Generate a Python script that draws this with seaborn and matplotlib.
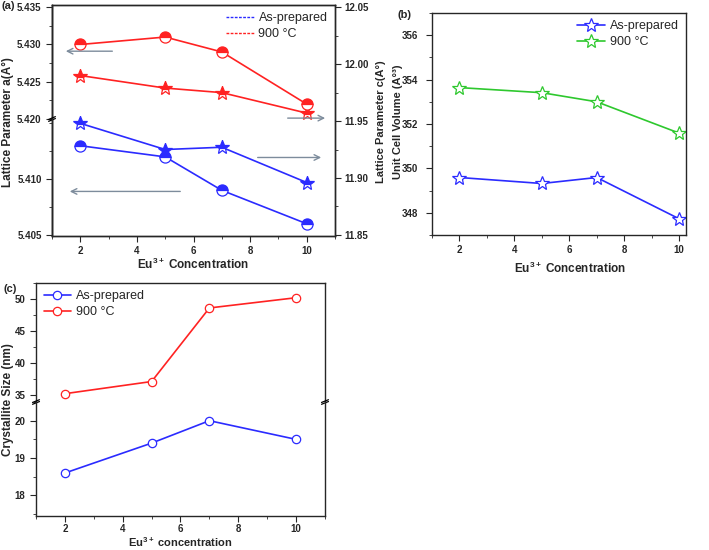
import numpy as np
import pandas as pd
import seaborn as sns
import matplotlib
matplotlib.use("Agg")
import matplotlib.pyplot as plt
from matplotlib.lines import Line2D
from matplotlib.ticker import MultipleLocator

# --- DATA ---
eu_conc = [2, 5, 7, 10]

# (a) lattice parameters
a_as_prepared = [5.413, 5.412, 5.409, 5.406]
a_900 = [5.430, 5.431, 5.429, 5.422]
c_as_prepared = [11.948, 11.925, 11.927, 11.896]
c_900 = [11.990, 11.979, 11.975, 11.957]

# (b) unit cell volume
vol_as_prepared = [349.59, 349.32, 349.59, 347.73]
vol_900 = [353.64, 353.41, 353.00, 351.59]

# (c) crystallite size
size_as_prepared = [18.6, 19.4, 20.0, 19.5]
size_900 = [35.2, 37.1, 48.6, 50.2]

series_labels = ["As-prepared", "900 °C"]

BLUE = "#2b2bff"
RED = "#ff2222"
GREEN = "#2ec82e"
ARROW = "#7d8c9c"

# --- STYLE ---
sns.set_style("ticks")
plt.rcParams["font.family"] = ["Liberation Sans", "DejaVu Sans"]
plt.rcParams["font.weight"] = "bold"
plt.rcParams["axes.labelweight"] = "bold"
plt.rcParams["mathtext.fontset"] = "custom"
plt.rcParams["mathtext.rm"] = "Liberation Sans:bold"
plt.rcParams["mathtext.it"] = "Liberation Sans:bold"
plt.rcParams["mathtext.bf"] = "Liberation Sans:bold"
plt.rcParams["xtick.labelsize"] = 7
plt.rcParams["ytick.labelsize"] = 7
plt.rcParams["xtick.direction"] = "out"
plt.rcParams["ytick.direction"] = "out"
plt.rcParams["axes.linewidth"] = 1.0

fig = plt.figure(figsize=(7.09, 5.5), dpi=100)
W, H = 709, 550


def px_box(left, top, right, bottom):
    return [left / W, 1 - bottom / H, (right - left) / W, (bottom - top) / H]


def fig_label(x, y, s, rot=0, size=8.5, va="center"):
    fig.text(x / W, 1 - y / H, s, rotation=rot, ha="center", va=va,
             fontsize=size, fontweight="bold")


def break_marks(ax, y, side="left"):
    x = 0 if side == "left" else 1
    d = 0.012
    for off in (-0.008, 0.008):
        ax.plot([x - d, x + d], [y + off - 0.012, y + off + 0.012],
                transform=ax.transAxes, color="k", lw=0.9, clip_on=False)


def draw(ax, x, y, color, marker, ms, **kw):
    sns.lineplot(x=x, y=y, ax=ax, color=color, marker=marker, markersize=ms,
                 markeredgecolor=color, markeredgewidth=0.9, lw=1.2, **kw)


def xaxis_fmt(ax):
    ax.xaxis.set_major_locator(MultipleLocator(2))
    ax.xaxis.set_minor_locator(MultipleLocator(1))
    ax.tick_params(axis="x", which="major", length=4)
    ax.tick_params(axis="x", which="minor", length=2.5)


leg_kw = dict(frameon=False, prop={"weight": "normal", "size": 9}, handlelength=2.2,
              borderaxespad=0.2, labelspacing=0.3, handletextpad=0.4)

# --- (a) ---
ax_a = fig.add_axes(px_box(52, 5, 335, 236))
ax_a.set_xlim(1, 11)
ax_a.set_yticks([])
xaxis_fmt(ax_a)

ax_ar = ax_a.twinx()
draw(ax_ar, eu_conc, c_as_prepared, BLUE, "*", 10, fillstyle="top", markerfacecoloralt="white")
draw(ax_ar, eu_conc, c_900, RED, "*", 10, fillstyle="top", markerfacecoloralt="white")
ax_ar.set_ylim(11.849, 12.052)
ax_ar.yaxis.set_major_locator(MultipleLocator(0.05))
ax_ar.yaxis.set_minor_locator(MultipleLocator(0.025))
ax_ar.yaxis.set_major_formatter(plt.FormatStrFormatter("%.2f"))
ax_ar.tick_params(axis="y", which="major", length=4, pad=3)
ax_ar.tick_params(axis="y", which="minor", length=2.5)
ax_ar.set_xlim(1, 11)

ax_at = fig.add_axes(px_box(52, 5, 335, 119), sharex=ax_a)
ax_ab = fig.add_axes(px_box(52, 119, 335, 236), sharex=ax_a)
for ax in (ax_at, ax_ab):
    ax.patch.set_alpha(0)
    for s in ("top", "right", "bottom"):
        ax.spines[s].set_visible(False)
    ax.tick_params(axis="x", which="both", bottom=False, labelbottom=False)
    ax.tick_params(axis="y", which="major", length=4)
    ax.tick_params(axis="y", which="minor", length=2.5)
    ax.yaxis.set_major_formatter(plt.FormatStrFormatter("%.3f"))

draw(ax_at, eu_conc, a_900, RED, "o", 8, fillstyle="top", markerfacecoloralt="white")
ax_at.set_ylim(5.4200, 5.4353)
ax_at.yaxis.set_major_locator(MultipleLocator(0.005))
ax_at.yaxis.set_minor_locator(MultipleLocator(0.0025))

draw(ax_ab, eu_conc, a_as_prepared, BLUE, "o", 8, fillstyle="top", markerfacecoloralt="white")
ax_ab.set_ylim(5.4049, 5.4154)
ax_ab.set_yticks([5.405, 5.410])
ax_ab.yaxis.set_minor_locator(MultipleLocator(0.0025))
ax_ab.set_xlim(1, 11)
break_marks(ax_ab, 1.0, "left")

fig_label(8, 122, "Lattice Parameter a(A°)", rot=90)
fig_label(381, 122, "Lattice Parameter c(A°)", rot=90, size=8)
fig_label(193, 272, "Eu$^{3+}$ Concentration", va="bottom")

arrow_kw = dict(arrowstyle="->", color=ARROW, lw=1.0)
ax_at.annotate("", xy=(1.39, 5.4291), xytext=(3.23, 5.4291), arrowprops=arrow_kw)
ax_ab.annotate("", xy=(1.53, 5.4089), xytext=(5.63, 5.4089), arrowprops=arrow_kw)
ax_ar.annotate("", xy=(10.75, 11.9526), xytext=(9.23, 11.9526), arrowprops=arrow_kw)
ax_ar.annotate("", xy=(10.61, 11.918), xytext=(8.17, 11.918), arrowprops=arrow_kw)

leg_a = [Line2D([], [], color=BLUE, ls=(0, (2, 1)), lw=1.0),
         Line2D([], [], color=RED, ls=(0, (2, 1)), lw=1.0)]
ax_at.legend(leg_a, series_labels, loc="upper right", **leg_kw)

fig_label(8, 6, "(a)", size=8)

# --- (b) ---
ax_b = fig.add_axes(px_box(432, 13, 686, 235))
draw(ax_b, eu_conc, vol_as_prepared, BLUE, "*", 10, mfc="white", label=series_labels[0])
draw(ax_b, eu_conc, vol_900, GREEN, "*", 10, mfc="white", label=series_labels[1])
ax_b.set_xlim(1, 10.25)
ax_b.set_ylim(347, 357)
xaxis_fmt(ax_b)
ax_b.yaxis.set_major_locator(MultipleLocator(2))
ax_b.yaxis.set_minor_locator(MultipleLocator(1))
ax_b.tick_params(axis="y", which="major", length=4, pad=6)
ax_b.tick_params(axis="y", which="minor", length=2.5)
ax_b.legend(loc="upper right", **leg_kw)
fig_label(398, 122, "Unit Cell Volume (A°³)", rot=90, size=8)
fig_label(570, 276, "Eu$^{3+}$ Concentration", va="bottom")
fig_label(404, 15, "(b)", size=8)

# --- (c) ---
ax_ct = fig.add_axes(px_box(36, 283, 325, 402))
ax_cb = fig.add_axes(px_box(36, 402, 325, 516), sharex=ax_ct)
draw(ax_ct, eu_conc, size_as_prepared, BLUE, "o", 6, mfc="white", label=series_labels[0])
draw(ax_ct, eu_conc, size_900, RED, "o", 6, mfc="white", label=series_labels[1])
draw(ax_cb, eu_conc, size_as_prepared, BLUE, "o", 6, mfc="white")
ax_ct.set_ylim(33.9, 52.5)
ax_cb.set_ylim(17.45, 20.5)
ax_ct.set_xlim(1, 11)
ax_ct.spines["bottom"].set_visible(False)
ax_cb.spines["top"].set_visible(False)
ax_ct.tick_params(axis="x", which="both", bottom=False, labelbottom=False)
xaxis_fmt(ax_cb)
ax_cb.tick_params(axis="x", which="major", pad=2)
ax_ct.yaxis.set_major_locator(MultipleLocator(5))
ax_ct.yaxis.set_minor_locator(MultipleLocator(2.5))
ax_cb.yaxis.set_major_locator(MultipleLocator(1))
ax_cb.yaxis.set_minor_locator(MultipleLocator(0.5))
for ax in (ax_ct, ax_cb):
    ax.tick_params(axis="y", which="major", length=4)
    ax.tick_params(axis="y", which="minor", length=2.5)
break_marks(ax_cb, 1.0, "left")
break_marks(ax_cb, 1.0, "right")
fig_label(180, 549, "Eu$^{3+}$ concentration", size=8, va="bottom")
fig_label(8, 400, "Crystallite Size (nm)", rot=90)
ax_ct.legend(loc="upper left", **leg_kw)
fig_label(10, 289, "(c)", size=8)

fig.savefig("out.png", dpi=100)
